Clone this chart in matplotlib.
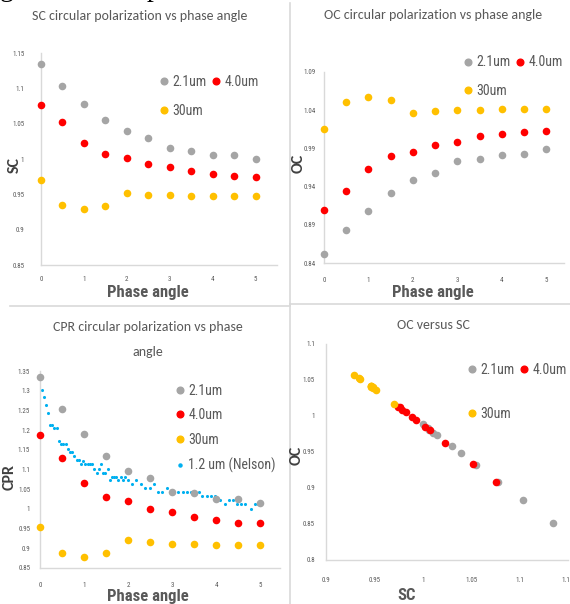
import matplotlib
matplotlib.use("Agg")
import matplotlib.pyplot as plt
from matplotlib.lines import Line2D

COND = ['Roboto Condensed', 'DejaVu Sans']
TITLEF = ['Carlito', 'DejaVu Sans']
plt.rcParams['font.family'] = COND

W, H = 570, 604

phase = [0, 0.5, 1, 1.5, 2, 2.5, 3, 3.5, 4, 4.5, 5]
labels = ['2.1um', '4.0um', '30um']
colors = ['#A5A5A5', '#FF0000', '#FFC000']
nelson_color = '#00B0F0'

sc_21 = [1.134, 1.103, 1.078, 1.055, 1.039, 1.030, 1.015, 1.011, 1.006, 1.005, 1.000]
sc_40 = [1.076, 1.052, 1.023, 1.007, 1.002, 0.993, 0.989, 0.983, 0.979, 0.976, 0.974]
sc_30 = [0.970, 0.935, 0.929, 0.934, 0.952, 0.949, 0.949, 0.947, 0.947, 0.947, 0.947]

oc_21 = [0.852, 0.883, 0.908, 0.932, 0.948, 0.958, 0.974, 0.976, 0.981, 0.983, 0.989]
oc_40 = [0.909, 0.934, 0.963, 0.980, 0.985, 0.995, 0.999, 1.006, 1.009, 1.012, 1.013]
oc_30 = [1.016, 1.051, 1.057, 1.053, 1.036, 1.039, 1.040, 1.040, 1.041, 1.041, 1.041]

cpr_21 = [1.334, 1.253, 1.191, 1.134, 1.097, 1.079, 1.044, 1.040, 1.026, 1.026, 1.015]
cpr_40 = [1.188, 1.129, 1.065, 1.030, 1.019, 1.000, 0.993, 0.980, 0.971, 0.964, 0.963]
cpr_30 = [0.954, 0.889, 0.879, 0.889, 0.921, 0.916, 0.912, 0.911, 0.909, 0.909, 0.909]

nelson_phase = [0.04, 0.09, 0.13, 0.19, 0.23, 0.27, 0.32, 0.38, 0.43, 0.47, 0.53, 0.58,
                0.63, 0.68, 0.72, 0.78, 0.83, 0.88, 0.93, 0.98, 1.03, 1.08, 1.13, 1.19,
                1.23, 1.29, 1.34, 1.39, 1.43, 1.48, 1.54, 1.58, 1.63, 1.68, 1.73, 1.78,
                1.83, 1.89, 1.94, 1.99, 2.08, 2.18, 2.30, 2.39, 2.50, 2.58, 2.69, 2.78,
                2.88, 2.95, 3.05, 3.14, 3.24, 3.33, 3.42, 3.52, 3.60, 3.69, 3.79, 3.89,
                3.98, 4.09, 4.20, 4.30, 4.39, 4.47, 4.56, 4.66, 4.79, 4.89, 4.96]
nelson_cpr = [1.303, 1.285, 1.264, 1.243, 1.213, 1.213, 1.205, 1.205, 1.173, 1.165, 1.165, 1.165,
              1.152, 1.145, 1.145, 1.133, 1.124, 1.124, 1.113, 1.122, 1.113, 1.113, 1.113, 1.113,
              1.102, 1.092, 1.102, 1.113, 1.092, 1.092, 1.102, 1.073, 1.082, 1.082, 1.082, 1.073,
              1.082, 1.073, 1.082, 1.073, 1.063, 1.073, 1.063, 1.053, 1.053, 1.063, 1.042, 1.042,
              1.053, 1.042, 1.042, 1.042, 1.042, 1.042, 1.042, 1.042, 1.042, 1.033, 1.033, 1.033,
              1.033, 1.023, 1.013, 1.023, 1.023, 1.013, 1.013, 1.013, 1.001, 1.013, 1.013]

TXT = '#595959'
DARK = '#404040'
SPINE = '#D9D9D9'

fig = plt.figure(figsize=(W / 100, H / 100), dpi=100)


def px_axes(x0, x1, ytop, ybot):
    return fig.add_axes([x0 / W, 1 - ybot / H, (x1 - x0) / W, (ybot - ytop) / H])


def style(ax, xlim, ylim, xticks, yticks, ytl, xtl, ypad, xpad):
    ax.set_xlim(*xlim)
    ax.set_ylim(*ylim)
    ax.set_xticks(xticks)
    ax.set_xticklabels(xtl)
    ax.set_yticks(yticks)
    ax.set_yticklabels(ytl)
    for s in ['top', 'right']:
        ax.spines[s].set_visible(False)
    for s in ['left', 'bottom']:
        ax.spines[s].set_color(SPINE)
        ax.spines[s].set_linewidth(1.0)
    ax.tick_params(axis='both', length=0, labelsize=5, labelcolor=TXT)
    ax.tick_params(axis='y', pad=ypad)
    ax.tick_params(axis='x', pad=xpad)
    ax.patch.set_alpha(0)


def fig_text(x, y, s, **kw):
    fig.text(x / W, 1 - y / H, s, **kw)


LEG_FS = 10


def handles(n_series, with_nelson=False):
    hs = [Line2D([], [], marker='o', linestyle='none', markersize=4.8,
                 markerfacecolor=c, markeredgecolor=c) for c in colors[:n_series]]
    if with_nelson:
        hs.append(Line2D([], [], marker='o', linestyle='none', markersize=2.2,
                         markerfacecolor=nelson_color, markeredgecolor=nelson_color))
    return hs


def two_col_legend(ax, x, y, spacing):
    hs = handles(3)
    leg = ax.legend([hs[0], hs[2], hs[1]], [labels[0], labels[2], labels[1]],
                    ncol=2, loc='upper left', bbox_to_anchor=(x / W, 1 - y / H),
                    bbox_transform=fig.transFigure, frameon=False, fontsize=LEG_FS,
                    labelcolor=TXT, handlelength=0.6, handletextpad=0.3,
                    columnspacing=0.4, labelspacing=spacing, borderpad=0, borderaxespad=0)
    return leg


MS = 30
TITLE_FS = 10
XL_FS = 12

# ---- Panel 1: SC ----
ax1 = px_axes(41, 277, 53, 265)
for ys, c in zip([sc_21, sc_40, sc_30], colors):
    ax1.scatter(phase, ys, s=MS, color=c, linewidths=0, zorder=3, clip_on=False)
style(ax1, (0, 5.5), (0.85, 1.15), [0, 1, 2, 3, 4, 5],
      [0.85, 0.9, 0.95, 1.0, 1.05, 1.1, 1.15],
      ['0.85', '0.9', '0.95', '1', '1.05', '1.1', '1.15'],
      ['0', '1', '2', '3', '4', '5'], 12, 8)
two_col_legend(ax1, 160, 75, 1.05)
fig_text(140, 16, 'SC circular polarization vs phase angle', ha='center', va='center',
         fontsize=TITLE_FS, color=TXT, family=TITLEF)
fig_text(148, 292, 'Phase angle', ha='center', va='center', fontsize=XL_FS, color=TXT,
         fontweight='bold')
fig_text(15, 165, 'SC', ha='center', va='center', fontsize=11.5, color=DARK,
         fontweight='bold', rotation=90, family=TITLEF)

# ---- Panel 2: OC ----
ax2 = px_axes(324, 564, 72, 263)
for ys, c in zip([oc_21, oc_40, oc_30], colors):
    ax2.scatter(phase, ys, s=MS, color=c, linewidths=0, zorder=3, clip_on=False)
style(ax2, (0, 5.4), (0.84, 1.09), [0, 1, 2, 3, 4, 5],
      [0.84, 0.89, 0.94, 0.99, 1.04, 1.09],
      ['0.84', '0.89', '0.94', '0.99', '1.04', '1.09'],
      ['0', '1', '2', '3', '4', '5'], 6, 10)
two_col_legend(ax2, 464, 55.5, 1.05)
fig_text(433, 15, 'OC circular polarization vs phase angle', ha='center', va='center',
         fontsize=TITLE_FS, color=TXT, family=TITLEF)
fig_text(433, 292, 'Phase angle', ha='center', va='center', fontsize=XL_FS, color=TXT,
         fontweight='bold')
fig_text(299, 163, 'OC', ha='center', va='center', fontsize=11.5, color=DARK,
         fontweight='bold', rotation=90, family=TITLEF)

# ---- Panel 3: CPR ----
ax3 = px_axes(40, 280, 371, 568)
ax3.scatter(nelson_phase, nelson_cpr, s=5, color=nelson_color, linewidths=0, zorder=2,
            clip_on=False)
for ys, c in zip([cpr_21, cpr_40, cpr_30], colors):
    ax3.scatter(phase, ys, s=MS, color=c, linewidths=0, zorder=3, clip_on=False)
style(ax3, (0, 5.45), (0.85, 1.35), [0, 1, 2, 3, 4, 5],
      [0.85, 0.9, 0.95, 1.0, 1.05, 1.1, 1.15, 1.2, 1.25, 1.3, 1.35],
      ['0.85', '0.9', '0.95', '1', '1.05', '1.1', '1.15', '1.2', '1.25', '1.3', '1.35'],
      ['0', '1', '2', '3', '4', '5'], 7, 10)
ax3.legend(handles(3, True), labels + ['1.2 um (Nelson)'], loc='upper left',
           bbox_to_anchor=(176 / W, 1 - 383.5 / H), bbox_transform=fig.transFigure,
           frameon=False, fontsize=LEG_FS, labelcolor=TXT, handlelength=0.6,
           handletextpad=0.3, labelspacing=0.78, borderpad=0, borderaxespad=0)
fig_text(148, 327, 'CPR circular polarization vs phase', ha='center', va='center',
         fontsize=TITLE_FS, color=TXT, family=TITLEF)
fig_text(148, 352, 'angle', ha='center', va='center', fontsize=TITLE_FS, color=TXT,
         family=TITLEF)
fig_text(148, 597, 'Phase angle', ha='center', va='center', fontsize=XL_FS, color=TXT,
         fontweight='bold')
fig_text(10, 477, 'CPR', ha='center', va='center', fontsize=11.5, color=DARK,
         fontweight='bold', rotation=90, family=TITLEF)

# ---- Panel 4: OC vs SC ----
ax4 = px_axes(326, 568, 344, 560)
for xs, ys, c in zip([sc_21, sc_40, sc_30], [oc_21, oc_40, oc_30], colors):
    ax4.scatter(xs, ys, s=MS, color=c, linewidths=0, zorder=3, clip_on=False)
style(ax4, (0.9, 1.15), (0.8, 1.1), [0.9, 0.95, 1.0, 1.05, 1.1, 1.15],
      [0.8, 0.85, 0.9, 0.95, 1.0, 1.05, 1.1],
      ['0.8', '0.85', '0.9', '0.95', '1', '1.05', '1.1'],
      ['0.9', '0.95', '1', '1.05', '1.1', '1.15'], 8, 12)
two_col_legend(ax4, 468, 363, 2.15)
fig_text(433, 325, 'OC versus SC', ha='center', va='center', fontsize=TITLE_FS,
         color=TXT, family=TITLEF)
fig_text(407, 595, 'SC', ha='center', va='center', fontsize=12, color=TXT,
         fontweight='bold')
fig_text(297, 455, 'OC', ha='center', va='center', fontsize=11.5, color=DARK,
         fontweight='bold', rotation=90, family=TITLEF)

# ---- separators ----
SEP = '#D9D9D9'
fig.add_artist(Line2D([290 / W, 290 / W], [1 - 3 / H, 1 - 305 / H], color=SEP, lw=1.2,
                      transform=fig.transFigure))
fig.add_artist(Line2D([10 / W, 290 / W], [1 - 306 / H, 1 - 306 / H], color=SEP, lw=1.2,
                      transform=fig.transFigure))
fig.add_artist(Line2D([290 / W, 1], [1 - 304 / H, 1 - 304 / H], color=SEP, lw=1.2,
                      transform=fig.transFigure))
fig.add_artist(Line2D([289.5 / W, 289.5 / W], [1 - 304 / H, 0], color=SEP, lw=1.2,
                      transform=fig.transFigure))

# ---- cut-off caption line above the figure ----
fig.text(0 / W, 1 + 4 / H, 'g', family=['Liberation Serif'], fontsize=20, color='black',
         va='baseline', ha='left')
fig.text(147 / W, 1 + 4 / H, 'p', family=['Liberation Serif'], fontsize=20, color='black',
         va='baseline', ha='left')

fig.savefig('out.png', dpi=100)
